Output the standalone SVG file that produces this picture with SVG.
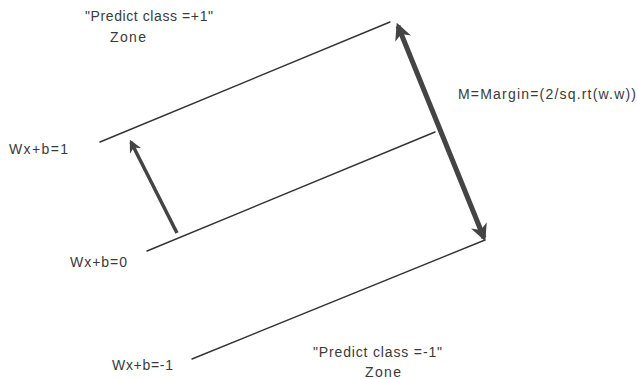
<svg xmlns="http://www.w3.org/2000/svg" width="637" height="379" viewBox="0 0 637 379">
<style>
text{font-family:"Liberation Sans",Arial,sans-serif;font-size:14px;fill:#3a3a3a}
.hp{stroke:#333;stroke-width:1.4;fill:none;stroke-linecap:round}
.thick{stroke:#444;stroke-width:5;fill:none}
.mid{stroke:#444;stroke-width:3.5;fill:none}
</style>
<defs>
<marker id="ah" viewBox="0 0 10 10" refX="8" refY="5" markerWidth="3.4" markerHeight="3.4" orient="auto-start-reverse" markerUnits="strokeWidth">
<path d="M0,0 L10,5 L0,10 L3,5 Z" fill="#444"/>
</marker>
<marker id="ah2" viewBox="0 0 10 10" refX="8" refY="5" markerWidth="3.6" markerHeight="3.6" orient="auto" markerUnits="strokeWidth">
<path d="M0,0 L10,5 L0,10 L3,5 Z" fill="#444"/>
</marker>
</defs>
<rect width="637" height="379" fill="#fff"/>
<g id="connectors">
<line class="hp" x1="100" y1="142" x2="390" y2="22"/>
<line class="hp" x1="147" y1="251" x2="435" y2="132"/>
<line class="hp" x1="192" y1="359" x2="485" y2="240"/>
<line class="thick" x1="398" y1="26" x2="484" y2="238" marker-start="url(#ah)" marker-end="url(#ah)"/>
<line class="mid" x1="177" y1="233" x2="131" y2="142" marker-end="url(#ah2)"/>
</g>
<g id="zone-plus">
<text x="85" y="21" textLength="128" lengthAdjust="spacing">"Predict class =+1"</text>
<text x="110" y="42" textLength="36" lengthAdjust="spacing">Zone</text>
</g>
<g id="label-plus1"><text x="9" y="154" textLength="59" lengthAdjust="spacing">Wx+b=1</text></g>
<g id="label-zero"><text x="70" y="267" textLength="57" lengthAdjust="spacing">Wx+b=0</text></g>
<g id="label-minus1"><text x="112" y="370" textLength="61" lengthAdjust="spacing">Wx+b=-1</text></g>
<g id="margin"><text x="458" y="99" textLength="178" lengthAdjust="spacing">M=Margin=(2/sq.rt(w.w))</text></g>
<g id="zone-minus">
<text x="313" y="357" textLength="129" lengthAdjust="spacing">"Predict class =-1"</text>
<text x="365" y="377" textLength="36" lengthAdjust="spacing">Zone</text>
</g>
</svg>
